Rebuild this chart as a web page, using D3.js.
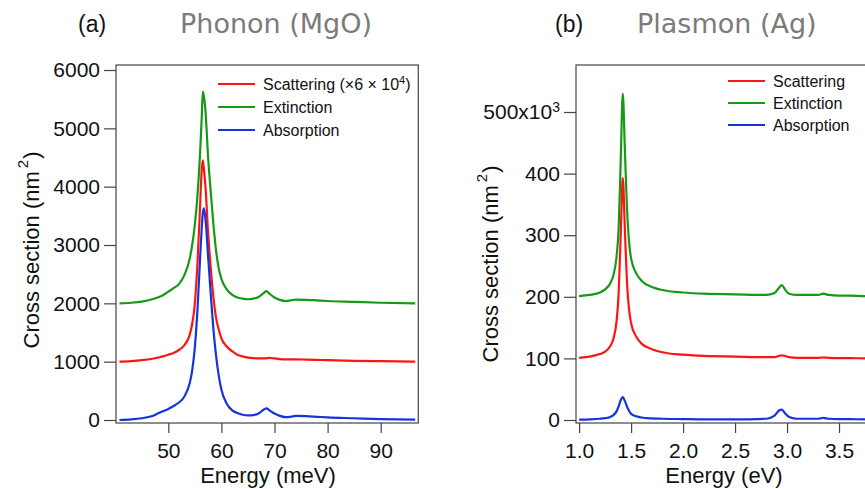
<!doctype html>
<html lang="en">
<head>
<meta charset="UTF-8">
<script src="https://d3js.org/d3.v7.min.js"></script>
<title>Cross sections</title>
<style>
    body { margin: 0; background: #fff; }
    svg text { font-family: "Liberation Sans", Arial, sans-serif; fill: #111; }
</style>
</head>
<body>
<div class="container"></div>
<script>
    // (a) phonon in MgO : energy in meV, cross section in nm^2 (curves offset by 1000)
    let phononEnergy = [40.8, 43, 45, 47, 48, 49, 50, 51, 52, 53,
        54, 54.5, 55, 55.5, 56, 56.3, 56.5, 56.7, 57, 57.5,
        58, 58.5, 59, 59.5, 60, 61, 62, 63, 64, 65,
        66, 67, 68, 68.5, 69, 70, 71, 72, 73, 74,
        76, 78, 80, 85, 90, 96.5];
    let phononScattering = [1000, 1010, 1025, 1050, 1070, 1090, 1120, 1150, 1200, 1280,
        1450, 1650, 2000, 2700, 3700, 4300, 4450, 4300, 4000, 3200,
        2600, 2100, 1750, 1550, 1400, 1260, 1180, 1120, 1090, 1070,
        1060, 1055, 1055, 1060, 1065, 1055, 1045, 1040, 1040, 1040,
        1035, 1030, 1025, 1015, 1008, 1000];
    let phononExtinction = [2000, 2010, 2030, 2070, 2100, 2140, 2200, 2260, 2330, 2480,
        2750, 3000, 3350, 3850, 4600, 5200, 5630, 5550, 5300, 4500,
        3900, 3350, 2900, 2600, 2420, 2240, 2150, 2100, 2080, 2070,
        2080, 2110, 2180, 2210, 2170, 2100, 2060, 2040, 2050, 2065,
        2060, 2050, 2040, 2025, 2010, 2000];
    let phononAbsorption = [0, 10, 30, 70, 110, 150, 190, 240, 300, 400,
        620, 850, 1250, 1900, 2800, 3300, 3550, 3630, 3450, 2800,
        2150, 1550, 1100, 760, 520, 280, 170, 120, 90, 80,
        85, 110, 180, 200, 170, 110, 70, 50, 55, 70,
        65, 55, 45, 30, 15, 5];
    let phononXTicks = [50, 60, 70, 80, 90];
    let phononYTicks = [0, 1000, 2000, 3000, 4000, 5000, 6000];

    // (b) plasmon in Ag : energy in eV, cross section in 10^3 nm^2 (curves offset by 100)
    let plasmonEnergy = [1.0, 1.1, 1.2, 1.25, 1.3, 1.33, 1.36, 1.38, 1.40, 1.42,
        1.44, 1.46, 1.48, 1.5, 1.55, 1.6, 1.7, 1.8, 2.0, 2.2,
        2.5, 2.8, 2.88, 2.92, 2.95, 2.98, 3.02, 3.1, 3.3, 3.35,
        3.4, 3.5, 3.6, 3.75, 3.9];
    let plasmonScattering = [101, 103, 107, 111, 120, 132, 160, 205, 300, 393,
        310, 225, 180, 157, 135, 124, 115, 110, 106, 104,
        103, 102, 102, 104, 105, 104, 102, 101, 101, 101.5,
        101, 100.5, 100.5, 100, 100];
    let plasmonExtinction = [201, 203, 207, 212, 222, 235, 265, 310, 420, 530,
        440, 345, 290, 262, 238, 226, 216, 211, 207, 205,
        204, 203, 206, 214, 219, 212, 205, 203, 203, 205,
        203, 202, 202, 201, 201];
    let plasmonAbsorption = [0.5, 1, 2, 3, 5, 8, 14, 22, 32, 37,
        31, 22, 15, 10, 6, 4, 2.5, 2, 1.5, 1,
        1, 2, 7, 15, 17, 11, 5, 2, 2, 3.5,
        2, 1.5, 1.5, 1, 1];
    let plasmonXTicks = [1.0, 1.5, 2.0, 2.5, 3.0, 3.5];
    let plasmonYTicks = [0, 100, 200, 300, 400, 500];

    let legendNames = ['Scattering', 'Extinction', 'Absorption'];
    let colors = ['#ff1414', '#169a16', '#1634dc'];
    let frameColor = '#444';

    let svg = d3.select('.container')
        .append('svg')
        .attr('width', 865)
        .attr('height', 489)
        .style('display', 'block');

    svg.append('rect').attr('width', 865).attr('height', 489).attr('fill', '#fff');

    function drawPanel(p) {
        let g = svg.append('g');
        let x = d3.scaleLinear().domain(p.xDomain).range([p.left, p.right]);
        let y = d3.scaleLinear().domain(p.yDomain).range([p.bottom, p.top]);

        // clip the curves to the frame
        svg.append('clipPath').attr('id', 'clip-' + p.id)
            .append('rect')
            .attr('x', p.left).attr('y', p.top)
            .attr('width', p.right - p.left).attr('height', p.bottom - p.top);

        let line = d3.line()
            .x(d => x(d[0]))
            .y(d => y(d[1]))
            .curve(d3.curveMonotoneX);

        p.series.forEach(function (s, i) {
            g.append('path')
                .datum(p.energy.map((e, k) => [e, s[k]]))
                .attr('d', line)
                .attr('fill', 'none')
                .attr('stroke', colors[i])
                .attr('stroke-width', 2.2)
                .attr('stroke-linejoin', 'round')
                .attr('clip-path', 'url(#clip-' + p.id + ')');
        });

        // frame
        g.append('rect')
            .attr('x', p.left).attr('y', p.top)
            .attr('width', p.right - p.left).attr('height', p.bottom - p.top)
            .attr('fill', 'none')
            .attr('stroke', frameColor)
            .attr('stroke-width', 1.2);

        // axes
        let xAxis = g.append('g')
            .attr('transform', 'translate(0,' + p.bottom + ')')
            .call(d3.axisBottom(x).tickValues(p.xTicks).tickSize(10).tickPadding(10)
                .tickFormat(p.xFormat));
        let yAxis = g.append('g')
            .attr('transform', 'translate(' + p.left + ',0)')
            .call(d3.axisLeft(y).tickValues(p.yTicks).tickSize(12).tickPadding(4)
                .tickFormat(p.yFormat));
        [xAxis, yAxis].forEach(function (a) {
            a.select('.domain').remove();
            a.selectAll('.tick line').attr('stroke', frameColor).attr('stroke-width', 1.2);
            a.selectAll('.tick text')
                .attr('font-size', 21)
                .attr('font-family', '"Liberation Sans", Arial, sans-serif')
                .attr('fill', '#111');
        });
        if (p.yTopSup) {
            yAxis.selectAll('.tick text')
                .filter(d => d === p.yTicks[p.yTicks.length - 1])
                .append('tspan')
                .attr('dy', '-0.55em')
                .attr('font-size', 14)
                .text(p.yTopSup);
        }

        // axis titles
        g.append('text')
            .attr('x', p.xTitleX).attr('y', 483)
            .attr('text-anchor', 'middle')
            .attr('font-size', 22)
            .text(p.xTitle);

        let yt = g.append('text')
            .attr('transform', 'translate(' + p.yTitleX + ',' + p.yTitleY + ') rotate(-90)')
            .attr('text-anchor', 'middle')
            .attr('font-size', 22);
        yt.append('tspan').text('Cross section (nm');
        yt.append('tspan').attr('dy', -11).attr('dx', 3).attr('font-size', 15).text('2');
        yt.append('tspan').attr('dy', 11).attr('dx', 1).text(')');

        // panel titles
        svg.append('text')
            .attr('x', p.tagX).attr('y', 32)
            .attr('font-size', 23)
            .text(p.tag);
        svg.append('text')
            .attr('x', p.titleX).attr('y', 33)
            .attr('font-size', 27)
            .style('font-family', '"DejaVu Sans", Verdana, sans-serif')
            .style('fill', '#7b7b7b')
            .text(p.title);

        // legend
        p.legend.forEach(function (name, i) {
            let ly = p.legendY + i * p.legendStep;
            g.append('line')
                .attr('x1', p.legendX).attr('x2', p.legendX + 37)
                .attr('y1', ly).attr('y2', ly)
                .attr('stroke', colors[i])
                .attr('stroke-width', 2.2);
            let t = g.append('text')
                .attr('x', p.legendX + 45).attr('y', ly + 5.5)
                .attr('font-size', 16)
                .text(name);
            if (i === 0 && p.scaleNote) {
                t.append('tspan').text(' (\u00d76 \u00d7 10');
                t.append('tspan').attr('dy', -6).attr('font-size', 11).text('4');
                t.append('tspan').attr('dy', 6).text(')');
            }
        });
    }

    drawPanel({
        id: 'a',
        left: 116, right: 418.3, top: 65, bottom: 423,
        xDomain: [40.15, 97.08], yDomain: [-51.4, 6086],
        energy: phononEnergy,
        series: [phononScattering, phononExtinction, phononAbsorption],
        xTicks: phononXTicks, yTicks: phononYTicks,
        xFormat: d3.format('d'), yFormat: d3.format('d'),
        xTitle: 'Energy (meV)', xTitleX: 268,
        yTitleX: 39, yTitleY: 250,
        tag: '(a)', tagX: 78, title: 'Phonon (MgO)', titleX: 180,
        legend: legendNames, legendX: 218, legendY: 84, legendStep: 23, scaleNote: true
    });

    drawPanel({
        id: 'b',
        left: 576, right: 891, top: 65, bottom: 423,
        xDomain: [0.97, 4.0], yDomain: [-4.87, 576.3],
        energy: plasmonEnergy,
        series: [plasmonScattering, plasmonExtinction, plasmonAbsorption],
        xTicks: plasmonXTicks, yTicks: plasmonYTicks,
        xFormat: d3.format('.1f'), yFormat: d => d === 500 ? '500x10' : d3.format('d')(d),
        yTopSup: '3',
        xTitle: 'Energy (eV)', xTitleX: 724,
        yTitleX: 498, yTitleY: 264,
        tag: '(b)', tagX: 555, title: 'Plasmon (Ag)', titleX: 637,
        legend: legendNames, legendX: 728, legendY: 81, legendStep: 22, scaleNote: false
    });
</script>
</body>
</html>
